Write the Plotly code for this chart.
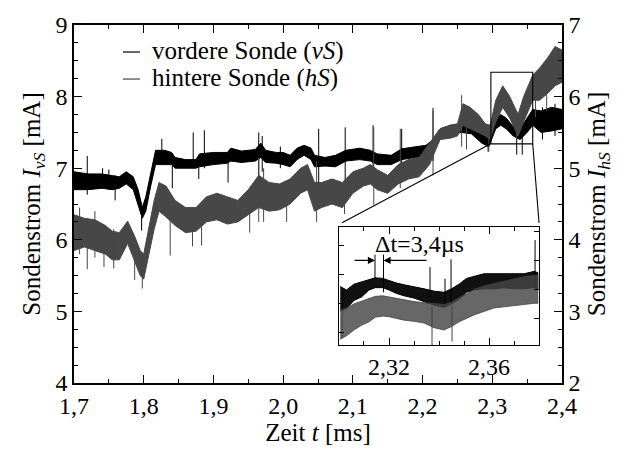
import plotly.graph_objects as go

# ---------------- main record: envelope of the probe currents ----------------
# front probe (vS), left axis [mA]
t_vs = [1.700, 1.720, 1.740, 1.755, 1.765, 1.775, 1.785, 1.792, 1.798, 1.803,
        1.810, 1.817, 1.830, 1.840, 1.845, 1.860, 1.875, 1.880, 1.900, 1.920,
        1.925, 1.940, 1.960, 1.968, 1.975, 1.990, 2.000, 2.010, 2.020, 2.030,
        2.040, 2.045, 2.060, 2.075, 2.090, 2.110, 2.125, 2.135, 2.155, 2.170,
        2.190, 2.205, 2.215, 2.225, 2.240, 2.255, 2.270, 2.285, 2.295, 2.305,
        2.312, 2.320, 2.330, 2.340, 2.350, 2.358, 2.370, 2.385, 2.400]
vs_hi = [6.95, 6.92, 6.92, 6.90, 6.88, 6.95, 6.88, 6.70, 6.45, 6.60,
         6.95, 7.25, 7.25, 7.22, 7.15, 7.12, 7.12, 7.20, 7.22, 7.22,
         7.28, 7.24, 7.26, 7.35, 7.25, 7.22, 7.22, 7.18, 7.28, 7.32,
         7.28, 7.18, 7.15, 7.18, 7.25, 7.28, 7.25, 7.20, 7.18, 7.27,
         7.30, 7.32, 7.40, 7.55, 7.60, 7.62, 7.58, 7.48, 7.45, 7.70,
         7.75, 7.70, 7.58, 7.55, 7.70, 7.82, 7.80, 7.85, 7.82]
vs_lo = [6.70, 6.70, 6.72, 6.70, 6.72, 6.78, 6.70, 6.50, 6.30, 6.40,
         6.75, 7.05, 7.05, 7.05, 7.00, 7.00, 7.00, 7.02, 7.05, 7.07,
         7.10, 7.08, 7.10, 7.15, 7.08, 7.07, 7.05, 7.02, 7.12, 7.18,
         7.12, 7.02, 7.03, 7.02, 7.10, 7.12, 7.10, 7.05, 7.05, 7.12,
         7.15, 7.17, 7.25, 7.40, 7.45, 7.50, 7.48, 7.35, 7.30, 7.55,
         7.60, 7.55, 7.45, 7.40, 7.50, 7.60, 7.50, 7.52, 7.55]

# rear probe (hS), right axis [mA]
t_hs = [1.700, 1.715, 1.730, 1.745, 1.755, 1.765, 1.777, 1.787, 1.795, 1.800,
        1.806, 1.815, 1.822, 1.832, 1.845, 1.860, 1.875, 1.890, 1.905, 1.920,
        1.935, 1.950, 1.965, 1.980, 1.995, 2.010, 2.025, 2.035, 2.045, 2.055,
        2.070, 2.085, 2.100, 2.115, 2.125, 2.135, 2.150, 2.165, 2.180, 2.195,
        2.210, 2.225, 2.240, 2.250, 2.258, 2.268, 2.280, 2.290, 2.297, 2.305,
        2.315, 2.325, 2.337, 2.345, 2.358, 2.368, 2.380, 2.390, 2.400]
hs_hi = [4.35, 4.30, 4.28, 4.20, 4.12, 4.10, 4.26, 4.05, 3.85, 3.80,
         4.10, 4.55, 4.80, 4.75, 4.55, 4.45, 4.45, 4.60, 4.65, 4.60,
         4.55, 4.70, 4.90, 4.80, 4.78, 4.85, 5.00, 5.05, 4.80, 4.80,
         4.85, 4.80, 4.95, 5.00, 5.05, 4.98, 4.90, 5.05, 5.12, 5.15,
         5.35, 5.55, 5.60, 5.62, 5.90, 5.85, 5.75, 5.62, 5.60, 5.95,
         6.15, 6.00, 5.75, 6.00, 6.30, 6.40, 6.55, 6.70, 6.65]
hs_lo = [3.85, 3.90, 3.85, 3.80, 3.72, 3.72, 3.95, 3.70, 3.50, 3.45,
         3.70, 4.15, 4.40, 4.32, 4.20, 4.10, 4.12, 4.25, 4.28, 4.22,
         4.25, 4.35, 4.45, 4.40, 4.42, 4.50, 4.65, 4.70, 4.40, 4.45,
         4.50, 4.45, 4.65, 4.75, 4.78, 4.70, 4.65, 4.78, 4.85, 4.88,
         5.05, 5.40, 5.42, 5.45, 5.60, 5.55, 5.50, 5.45, 5.40, 5.65,
         5.85, 5.70, 5.45, 5.65, 5.95, 5.95, 6.05, 6.15, 6.20]

# isolated spikes: time, lower end, upper end
spk_vs_t = [1.719, 1.741, 1.750, 1.759, 1.797, 1.826, 1.841, 1.871, 1.879, 1.887,
            1.921, 1.965, 1.970, 1.996, 2.051, 2.089, 2.129, 2.170, 2.215, 2.294,
            2.335, 2.343, 2.372, 2.390]
spk_vs_lo = [6.63, 6.72, 6.70, 6.55, 6.13, 7.05, 6.72, 7.00, 6.85, 7.00,
             6.80, 6.90, 6.95, 7.00, 6.75, 6.80, 6.95, 7.00, 7.10, 7.23,
             7.19, 7.19, 7.40, 7.45]
spk_vs_hi = [7.17, 7.00, 6.98, 6.90, 6.45, 7.41, 7.20, 7.50, 7.10, 7.53,
             7.15, 7.50, 7.45, 7.30, 7.55, 7.57, 7.60, 7.55, 7.84, 7.45,
             7.50, 7.55, 7.85, 7.90]

spk_hs_t = [1.708, 1.719, 1.730, 1.743, 1.757, 1.787, 1.798, 1.838, 1.870, 1.883,
            1.952, 1.965, 1.972, 2.005, 2.048, 2.088, 2.130, 2.168, 2.215, 2.256,
            2.263, 2.295, 2.335, 2.362, 2.378]
spk_hs_lo = [3.80, 3.59, 3.75, 3.62, 3.60, 3.44, 3.32, 3.78, 3.91, 3.92,
             4.10, 4.25, 4.25, 4.25, 4.25, 4.36, 4.49, 4.72, 4.90, 5.30,
             5.26, 5.23, 5.40, 5.71, 5.80]
spk_hs_hi = [4.45, 4.30, 4.40, 4.20, 4.15, 4.00, 3.80, 4.40, 4.40, 4.40,
             4.50, 5.15, 5.00, 4.70, 5.10, 4.80, 5.57, 5.55, 5.80, 6.02,
             5.85, 5.55, 5.80, 6.20, 6.40]

# ---------------- detail record 2.30 ... 2.38 ms ----------------
ti = [2.3005, 2.3030, 2.3060, 2.3090, 2.3120, 2.3145, 2.3175, 2.3200, 2.3230, 2.3260,
      2.3300, 2.3340, 2.3380, 2.3420, 2.3450, 2.3480, 2.3510, 2.3540, 2.3580, 2.3620,
      2.3660, 2.3700, 2.3740, 2.3780, 2.3795]
vsi_hi = [7.650, 7.620, 7.670, 7.690, 7.710, 7.725, 7.720, 7.700, 7.680, 7.665,
          7.650, 7.630, 7.610, 7.600, 7.630, 7.670, 7.720, 7.740, 7.760, 7.760,
          7.760, 7.760, 7.760, 7.780, 7.770]
vsi_lo = [7.442, 7.460, 7.530, 7.560, 7.620, 7.640, 7.640, 7.620, 7.590, 7.570,
          7.550, 7.520, 7.490, 7.470, 7.500, 7.540, 7.600, 7.620, 7.630, 7.630,
          7.640, 7.630, 7.630, 7.640, 7.630]
hsi_hi = [5.820, 5.840, 5.875, 5.900, 5.925, 5.940, 5.945, 5.935, 5.920, 5.905,
          5.895, 5.885, 5.875, 5.870, 5.890, 5.930, 5.960, 6.000, 6.030, 6.050,
          6.070, 6.090, 6.110, 6.120, 6.120]
hsi_lo = [5.570, 5.600, 5.650, 5.690, 5.720, 5.760, 5.770, 5.765, 5.750, 5.735,
          5.725, 5.710, 5.670, 5.650, 5.680, 5.720, 5.750, 5.780, 5.810, 5.840,
          5.850, 5.860, 5.870, 5.880, 5.880]
spk_vsi_t = [2.3015, 2.3364, 2.3424, 2.3448, 2.3784]
spk_vsi_lo = [7.425, 7.560, 7.500, 7.520, 7.640]
spk_vsi_hi = [7.600, 7.817, 7.717, 7.884, 8.050]
spk_hsi_t = [2.3012, 2.3372, 2.3452]
spk_hsi_lo = [5.580, 5.510, 5.550]
spk_hsi_hi = [5.800, 5.850, 5.860]

# peak times of the two probes (delay 3,4 µs)
peak_t = [2.3144, 2.3178]

# zoom window marked in the main record
zoom_t = [2.298, 2.358]
zoom_v = [7.34, 8.34]

BLACK = "#000000"
GREY = "#474747"
FONT = "Liberation Serif"


def band(t, hi, lo):
    return list(t) + list(t[::-1]), list(hi) + list(lo[::-1])


def spikes(t, lo, hi):
    xs, ys = [], []
    for a, b, c in zip(t, lo, hi):
        xs += [a, a, None]
        ys += [b, c, None]
    return xs, ys


fig = go.Figure()

# main record
bx, by = band(t_vs, vs_hi, vs_lo)
fig.add_trace(go.Scatter(x=bx, y=by, fill="toself", fillcolor=BLACK, mode="lines",
                         line=dict(color=BLACK, width=1.0), xaxis="x", yaxis="y",
                         hoverinfo="skip"))
sx, sy = spikes(spk_vs_t, spk_vs_lo, spk_vs_hi)
fig.add_trace(go.Scatter(x=sx, y=sy, mode="lines", line=dict(color=BLACK, width=1.0),
                         xaxis="x", yaxis="y", hoverinfo="skip"))

bx, by = band(t_hs, hs_hi, hs_lo)
fig.add_trace(go.Scatter(x=bx, y=by, fill="toself", fillcolor=GREY, mode="lines",
                         line=dict(color=GREY, width=1.0), xaxis="x", yaxis="y2",
                         hoverinfo="skip"))
sx, sy = spikes(spk_hs_t, spk_hs_lo, spk_hs_hi)
fig.add_trace(go.Scatter(x=sx, y=sy, mode="lines", line=dict(color=GREY, width=1.0),
                         xaxis="x", yaxis="y2", hoverinfo="skip"))

# detail record: front probe first, the translucent rear-probe band drawn over it
bx, by = band(ti, vsi_hi, vsi_lo)
fig.add_trace(go.Scatter(x=bx, y=by, fill="toself", mode="lines", fillcolor="#111111",
                         line=dict(color=BLACK, width=1.0), xaxis="x3", yaxis="y3",
                         hoverinfo="skip"))
sx, sy = spikes(spk_vsi_t, spk_vsi_lo, spk_vsi_hi)
fig.add_trace(go.Scatter(x=sx, y=sy, mode="lines", line=dict(color=BLACK, width=1.0),
                         xaxis="x3", yaxis="y3", hoverinfo="skip"))

bx, by = band(ti, hsi_hi, hsi_lo)
fig.add_trace(go.Scatter(x=bx, y=by, fill="toself", mode="lines",
                         fillcolor="rgba(70,70,70,0.82)",
                         line=dict(color="#444444", width=0.8), xaxis="x3", yaxis="y4",
                         hoverinfo="skip"))
sx, sy = spikes(spk_hsi_t, spk_hsi_lo, spk_hsi_hi)
fig.add_trace(go.Scatter(x=sx, y=sy, mode="lines", line=dict(color="#444444", width=1.0),
                         xaxis="x3", yaxis="y4", hoverinfo="skip"))

# markers of the two peaks
fig.add_trace(go.Scatter(x=[peak_t[0], peak_t[0], None, peak_t[1], peak_t[1]],
                         y=[7.925, 7.717, None, 7.925, 7.60], mode="lines",
                         line=dict(color=BLACK, width=1.0), xaxis="x3", yaxis="y3",
                         hoverinfo="skip"))

axis_common = dict(showgrid=False, zeroline=False, showline=True, linecolor=BLACK,
                   ticks="inside", tickcolor=BLACK,
                   tickfont=dict(family=FONT, size=24, color=BLACK))

fig.update_layout(
    width=625, height=450, autosize=False,
    margin=dict(l=74, r=63, t=14, b=65),
    paper_bgcolor="white", plot_bgcolor="white",
    showlegend=False, separators=",.",
    font=dict(family=FONT, size=24, color=BLACK),
    xaxis=dict(**axis_common, domain=[0, 1], range=[1.7, 2.4], tick0=1.7, dtick=0.1,
               tickformat=".1f", ticklen=8, tickwidth=1.3, linewidth=1.5, mirror="ticks",
               minor=dict(dtick=0.05, ticks="inside", ticklen=4.5, tickwidth=1.2,
                          tickcolor=BLACK),
               title=dict(text="Zeit <i>t</i> [ms]", standoff=2,
                          font=dict(family=FONT, size=25, color=BLACK))),
    yaxis=dict(**axis_common, range=[4, 9], dtick=1, ticklen=8, tickwidth=1.3,
               linewidth=1.5, anchor="x",
               minor=dict(dtick=0.25, ticks="inside", ticklen=4.5, tickwidth=1.2,
                          tickcolor=BLACK),
               title=dict(text="Sondenstrom <i>I<sub>vS</sub></i> [mA]", standoff=8,
                          font=dict(family=FONT, size=25, color=BLACK))),
    yaxis2=dict(**axis_common, range=[2, 7], dtick=1, ticklen=8, tickwidth=1.3,
                linewidth=1.5, overlaying="y", side="right", anchor="x",
                minor=dict(dtick=0.25, ticks="inside", ticklen=4.5, tickwidth=1.2,
                           tickcolor=BLACK),
                title=dict(text="Sondenstrom <i>I<sub>hS</sub></i> [mA]", standoff=8,
                           font=dict(family=FONT, size=25, color=BLACK))),
    xaxis3=dict(**axis_common, domain=[0.543, 0.953], anchor="y3", range=[2.30, 2.38],
                tickvals=[2.32, 2.36], ticktext=["2,32", "2,36"], ticklen=7,
                tickwidth=1.2, linewidth=1.3, mirror="ticks",
                minor=dict(tickvals=[2.31, 2.33, 2.34, 2.35, 2.37], ticks="inside",
                           ticklen=4.5, tickwidth=1.1, tickcolor=BLACK)),
    yaxis3=dict(**axis_common, domain=[0.105, 0.437], anchor="x3", range=[7.142, 8.167],
                tick0=0, dtick=0.25, ticklen=5, tickwidth=1.1, linewidth=1.3,
                showticklabels=False),
    yaxis4=dict(**axis_common, overlaying="y3", side="right", anchor="x3",
                range=[5.517, 6.542], tick0=0, dtick=0.25, ticklen=5, tickwidth=1.1,
                linewidth=1.3, showticklabels=False),
)

# zoom window and its connectors to the detail panel
fig.add_shape(type="rect", xref="x", yref="y", x0=zoom_t[0], x1=zoom_t[1],
              y0=zoom_v[0], y1=zoom_v[1], line=dict(color=BLACK, width=1.1))
fig.add_shape(type="line", xref="paper", yref="paper", x0=0.8539, y0=0.6685,
              x1=0.5492, y1=0.4474, line=dict(color=BLACK, width=1.1))
fig.add_shape(type="line", xref="paper", yref="paper", x0=0.9400, y0=0.6685,
              x1=0.9529, y1=0.4474, line=dict(color=BLACK, width=1.1))

# legend drawn by hand
for ly, col, txt in [(0.9245, BLACK, "vordere Sonde (<i>vS</i>)"),
                     (0.8490, GREY, "hintere Sonde (<i>hS</i>)")]:
    fig.add_shape(type="line", xref="paper", yref="paper", x0=0.1004, x1=0.1352,
                  y0=ly, y1=ly, line=dict(color=col, width=1.2))
    fig.add_annotation(xref="paper", yref="paper", x=0.1557, y=ly + 0.004, text=txt,
                       showarrow=False, xanchor="left", yanchor="middle",
                       font=dict(family=FONT, size=25, color=BLACK))

# delay arrows and label in the detail panel
fig.add_annotation(xref="x3", yref="y3", axref="x3", ayref="y3", x=peak_t[0], y=7.875,
                   ax=2.3056, ay=7.875, text="", showarrow=True, arrowhead=2,
                   arrowsize=1.3, arrowwidth=1.1, arrowcolor=BLACK)
fig.add_annotation(xref="x3", yref="y3", axref="x3", ayref="y3", x=peak_t[1], y=7.875,
                   ax=2.3356, ay=7.875, text="", showarrow=True, arrowhead=2,
                   arrowsize=1.3, arrowwidth=1.1, arrowcolor=BLACK)
fig.add_annotation(xref="x3", yref="y3", x=2.332, y=8.017, text="Δt=3,4µs",
                   showarrow=False, xanchor="center", yanchor="middle",
                   font=dict(family=FONT, size=24, color=BLACK))

fig.write_html("out.html")
